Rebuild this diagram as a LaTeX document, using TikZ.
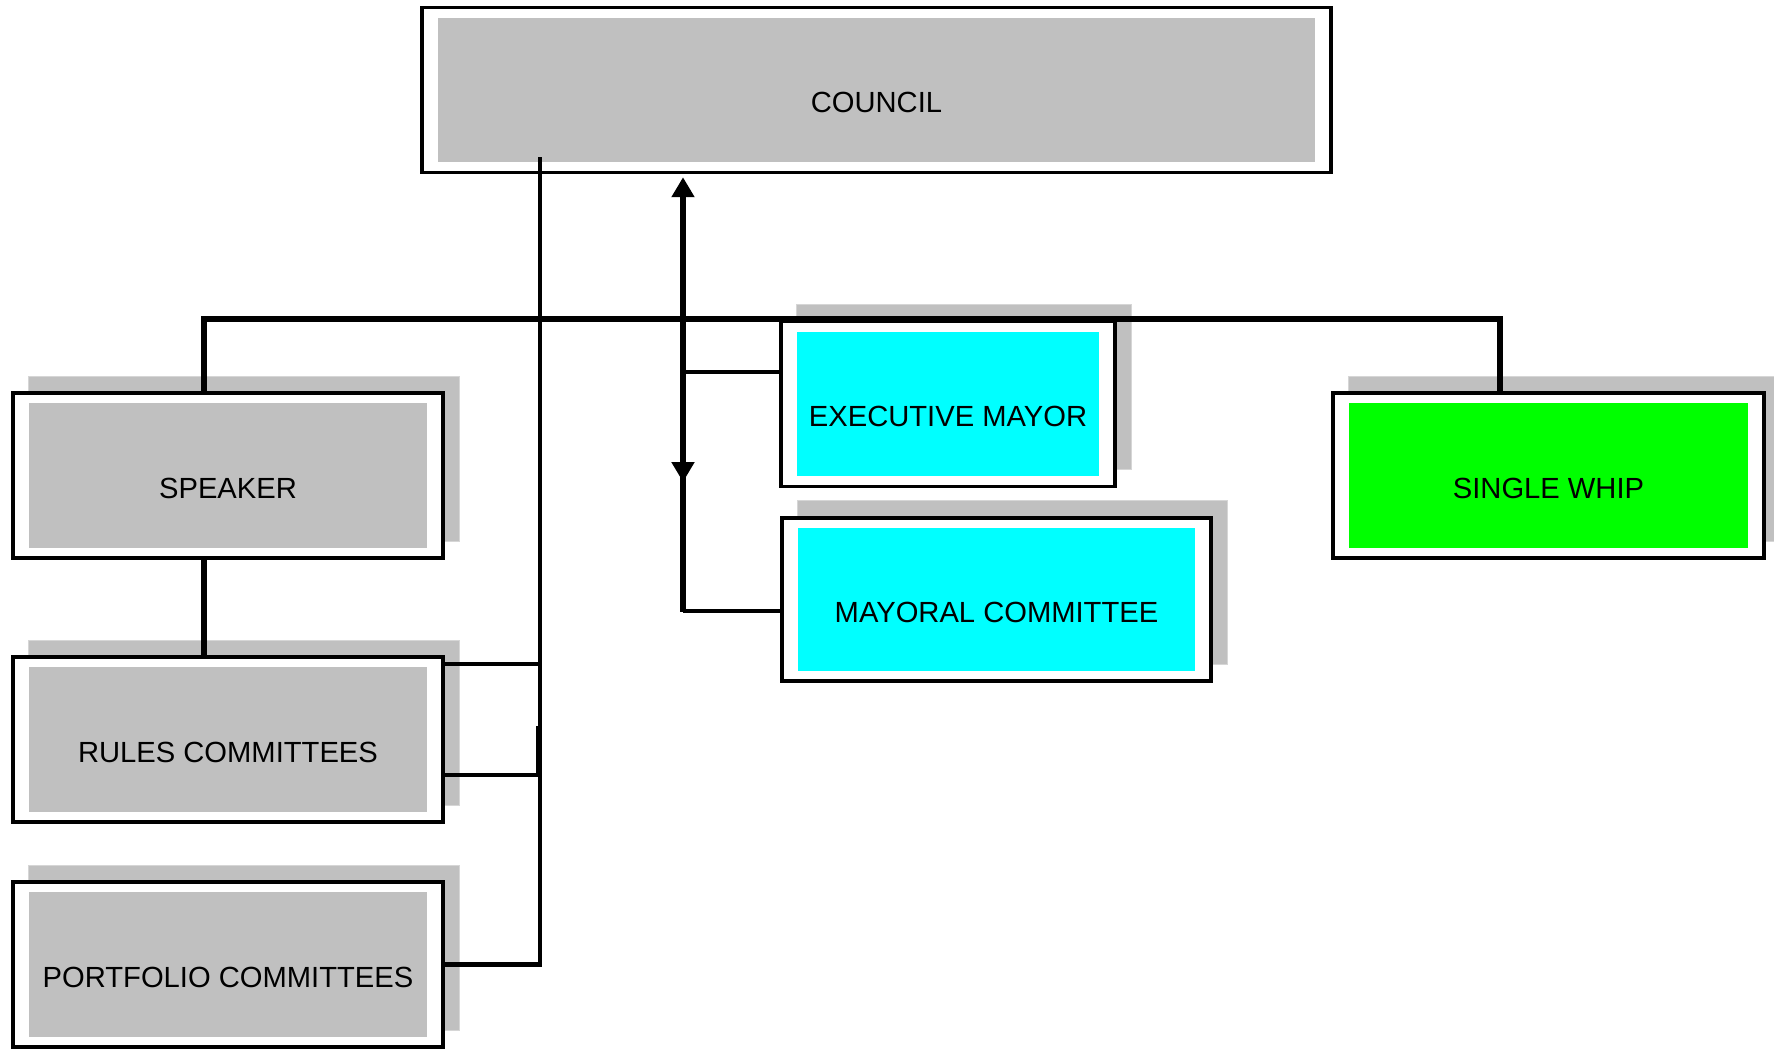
\documentclass[tikz,border=0pt]{standalone}
\usepackage{fontspec}
\setmainfont{Liberation Sans}
\usepackage{xcolor}
\usetikzlibrary{arrows.meta, shadows}

\definecolor{boxgrey}{RGB}{192,192,192}
\definecolor{shadeline}{RGB}{214,214,214}
\definecolor{boxcyan}{RGB}{0,255,255}
\definecolor{boxgreen}{RGB}{0,255,0}

\begin{document}
\begin{tikzpicture}[
    x=0.02cm, y=-0.02cm,
    >={Triangle[width=4.4mm, length=4mm]},
    orgbox/.style={rectangle, draw, line width=0.7mm, fill=white,
                   minimum height=3.3cm, inner sep=0pt,
                   font=\fontsize{16.6}{20}\selectfont,
                   text height=2.6em, text depth=0pt,
                   path picture={\fill[#1]
                     ([shift={(0.325cm,-0.205cm)}]path picture bounding box.north west) rectangle
                     ([shift={(-0.325cm,0.205cm)}]path picture bounding box.south east);}},
    orgbox/.default=boxgrey,
    shadowed/.style={general shadow={fill=boxgrey, draw=shadeline, line width=0.5pt,
                     shadow xshift=0.32cm, shadow yshift=0.34cm}},
    bus/.style={line width=1.1mm},
    link/.style={line width=0.9mm},
    thinlink/.style={line width=0.66mm},
]
\useasboundingbox (0,0) rectangle (1774,1048);
% top of the hierarchy
\node[orgbox, minimum width=18.19cm] (council) at (876.5,90) {COUNCIL};
% left column
\node[orgbox, shadowed, minimum width=8.61cm] (speaker)   at (228,475.5) {SPEAKER};
\node[orgbox, shadowed, minimum width=8.61cm] (rules)     at (228,739.5) {RULES COMMITTEES};
\node[orgbox, shadowed, minimum width=8.61cm] (portfolio) at (228,964.5) {PORTFOLIO COMMITTEES};
% executive side
\node[orgbox=boxcyan, shadowed, minimum width=6.69cm] (mayor) at (948,404) {EXECUTIVE MAYOR};
\node[orgbox=boxcyan, shadowed, minimum width=8.59cm, minimum height=3.27cm] (mcomm) at (996.5,599.5) {MAYORAL COMMITTEE};
\node[orgbox=boxgreen, shadowed, minimum width=8.63cm] (whip) at (1548.5,475.5) {SINGLE WHIP};

\coordinate (busL) at (204,319);
\coordinate (busR) at (1500,319);
\coordinate (cv) at (540,157);
\coordinate (ax) at (683,482);
% bus line over speaker and whip
\draw[bus] (speaker.north -| busL) -- (busL) -- (busR) -- (whip.north -| busR);
\draw[bus] (speaker.south -| busL) -- (rules.north -| busL);
% council down to the committees
\draw[link] (cv) |- (portfolio.east);
\draw[thinlink] (rules.east |- 0,664) -- (cv |- 0,664);
\draw[thinlink] (rules.east |- 0,775) -| (538,726);
% council and the executive
\draw[bus, <-, shorten <=0.06cm] (council.south -| ax) -- (683,612);
\draw[bus, ->] (683,420) -- (ax);
\draw[thinlink] (683,372) -- (mayor.west |- 0,372);
\draw[thinlink] (683,611) -- (mcomm.west |- 0,611);
\end{tikzpicture}
\end{document}
